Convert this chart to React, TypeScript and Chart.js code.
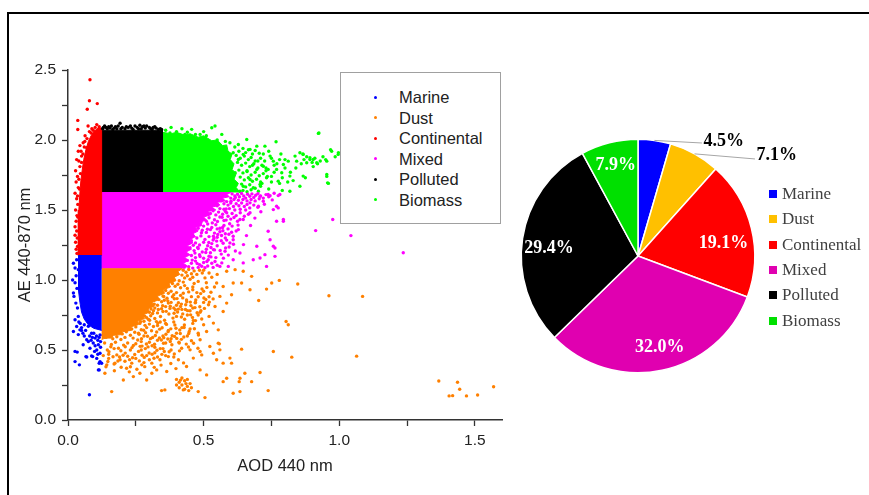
import React, { useEffect, useRef } from "react";
import { Chart, registerables } from "chart.js";

Chart.register(...registerables);

type Pt = [number, number];

// Aerosol classes, in legend order
const classes = ["Marine", "Dust", "Continental", "Mixed", "Polluted", "Biomass"];
const markerColors = ["#0000ff", "#ff8000", "#ff0000", "#ff00ff", "#000000", "#00ff00"];
const sliceColors = ["#0000ff", "#ffc000", "#ff0000", "#e000b0", "#000000", "#00e000"];
// Share of observations per class (%)
const sharePercent = [4.5, 7.1, 19.1, 32.0, 29.4, 7.9];

// Labelled ticks (minor ticks every 0.25 are unlabelled)
const aodLabelled = [0, 0.5, 1.0, 1.5];
const aeLabelled = [0, 0.5, 1.0, 1.5, 2.0, 2.5];

// Outlines of the saturated cores of each cloud (AOD, AE)
const marineCore: Pt[] = [[0.124,1.175],[0.040,1.175],[0.038,1.05],[0.040,0.92],[0.044,0.84],[0.050,0.77],[0.060,0.72],[0.075,0.68],[0.095,0.655],[0.124,0.64]];
const dustCore: Pt[] = [
  [0.124,1.08],[0.42,1.08],[0.405,1.06],[0.412,1.04],[0.392,1.02],[0.398,0.995],[0.372,0.975],[0.378,0.95],[0.35,0.93],
  [0.356,0.905],[0.33,0.885],[0.336,0.86],[0.31,0.84],[0.318,0.815],[0.295,0.795],[0.30,0.77],[0.275,0.75],[0.282,0.725],
  [0.255,0.705],[0.258,0.68],[0.23,0.665],[0.232,0.64],[0.20,0.63],[0.198,0.61],[0.168,0.605],[0.16,0.585],[0.138,0.585],
  [0.124,0.575],
];
const continentalCore: Pt[] = [[0.124,1.175],[0.124,2.085],[0.110,2.085],[0.095,2.06],[0.085,2.03],[0.075,1.99],[0.066,1.93],[0.058,1.86],[0.052,1.78],[0.047,1.70],[0.043,1.60],[0.040,1.50],[0.038,1.40],[0.038,1.175]];
const mixedCore: Pt[] = [
  [0.124,1.08],[0.124,1.625],[0.60,1.625],[0.585,1.61],[0.595,1.595],[0.57,1.585],[0.58,1.565],[0.55,1.555],[0.56,1.535],
  [0.53,1.52],[0.545,1.50],[0.515,1.49],[0.525,1.465],[0.50,1.45],[0.51,1.43],[0.485,1.41],[0.495,1.39],[0.47,1.375],
  [0.48,1.35],[0.46,1.33],[0.47,1.31],[0.45,1.29],[0.46,1.265],[0.44,1.245],[0.455,1.22],[0.435,1.20],[0.45,1.18],
  [0.43,1.16],[0.445,1.14],[0.425,1.12],[0.44,1.10],[0.43,1.08],
];
const pollutedCore: Pt[] = [[0.124,1.625],[0.124,2.07],[0.348,2.07],[0.348,1.625]];
const biomassCore: Pt[] = [
  [0.348,1.625],[0.348,2.055],[0.38,2.045],[0.40,2.055],[0.43,2.035],[0.45,2.045],[0.48,2.02],[0.50,2.03],[0.53,1.995],
  [0.55,2.0],[0.57,1.96],[0.585,1.965],[0.59,1.92],[0.605,1.90],[0.598,1.86],[0.612,1.83],[0.605,1.79],[0.62,1.76],
  [0.612,1.72],[0.628,1.69],[0.62,1.66],[0.635,1.625],
];

// Individual observations outside the saturated cores (AOD, AE)
const marinePts: Pt[] = [
  [0.032,1.145],[0.026,1.086],[0.038,1.074],[0.020,1.120],[0.017,1.000],[0.026,0.980],[0.020,0.907],[0.022,0.883],
  [0.029,0.835],[0.033,0.940],[0.030,1.030],[0.035,0.800],[0.038,0.740],[0.026,0.716],[0.032,0.668],[0.020,0.632],
  [0.040,0.700],[0.045,0.690],[0.044,0.644],[0.038,0.610],[0.075,0.670],[0.069,0.573],[0.093,0.550],[0.112,0.537],
  [0.106,0.500],[0.118,0.477],[0.034,0.485],[0.066,0.453],[0.087,0.458],[0.106,0.440],[0.118,0.417],[0.026,0.417],
  [0.042,0.394],[0.112,0.358],[0.079,0.180],[0.124,0.405],[0.100,0.585],[0.118,0.608],[0.087,0.620],[0.056,0.537],
  [0.081,0.513],[0.026,0.490],[0.069,0.450],[0.091,0.453],[0.115,0.405],[0.115,0.358],[0.055,0.620],[0.060,0.600],
  [0.065,0.640],[0.080,0.600],[0.090,0.590],[0.095,0.620],[0.105,0.600],[0.110,0.570],[0.120,0.560],[0.115,0.590],
  [0.085,0.570],[0.075,0.560],[0.100,0.530],[0.120,0.520],[0.098,0.490],[0.110,0.470],[0.050,0.660],[0.060,0.680],
  [0.050,0.640],
];
const dustPts: Pt[] = [
  [0.425,1.07],[0.435,1.055],[0.445,1.075],[0.455,1.045],[0.465,1.065],[0.475,1.04],[0.42,1.035],[0.43,1.015],[0.44,1.03],
  [0.45,1.005],[0.46,1.02],[0.485,1.07],[0.495,1.05],[0.41,0.995],[0.425,0.985],
  [0.385,0.975],[0.395,0.955],[0.405,0.97],[0.415,0.945],[0.43,0.96],[0.44,0.94],[0.36,0.925],[0.37,0.905],[0.38,0.92],
  [0.39,0.895],[0.40,0.91],[0.415,0.89],[0.35,0.885],[0.365,0.87],[0.385,0.88],[0.425,0.905],[0.445,0.915],[0.46,0.95],
  [0.335,0.86],[0.345,0.845],[0.355,0.855],[0.37,0.835],[0.31,0.815],[0.32,0.80],[0.33,0.82],[0.345,0.795],[0.36,0.81],
  [0.38,0.84],[0.29,0.785],[0.30,0.77],[0.315,0.78],[0.33,0.765],[0.35,0.775],[0.39,0.80],[0.40,0.82],
  [0.25,0.755],[0.26,0.74],[0.275,0.75],[0.29,0.73],[0.305,0.745],[0.32,0.725],[0.22,0.715],[0.235,0.70],[0.25,0.71],
  [0.265,0.69],[0.28,0.705],[0.30,0.685],[0.19,0.675],[0.205,0.66],[0.22,0.67],[0.235,0.65],[0.25,0.665],[0.27,0.645],
  [0.29,0.66],[0.155,0.635],[0.17,0.62],[0.185,0.635],[0.20,0.615],[0.215,0.63],[0.23,0.605],[0.26,0.62],[0.34,0.70],
  [0.33,0.675],
  [0.13,0.605],[0.14,0.59],[0.155,0.60],[0.165,0.58],[0.18,0.595],[0.195,0.575],[0.21,0.59],[0.24,0.585],[0.28,0.60],
  [0.135,0.55],[0.16,0.54],[0.175,0.555],[0.205,0.535],[0.22,0.55],[0.25,0.545],[0.27,0.56],[0.30,0.555],[0.145,0.50],
  [0.17,0.51],[0.195,0.495],[0.23,0.50],[0.26,0.49],[0.285,0.51],[0.32,0.52],[0.35,0.51],[0.15,0.47],[0.18,0.465],
  [0.22,0.455],[0.31,0.47],[0.33,0.45],
  [0.283,0.742],[0.297,0.718],[0.312,0.761],[0.326,0.703],[0.341,0.739],[0.356,0.712],[0.372,0.757],[0.387,0.728],
  [0.404,0.771],[0.418,0.736],[0.433,0.789],[0.452,0.751],[0.468,0.803],[0.487,0.769],
  [0.262,0.612],[0.279,0.641],[0.293,0.598],[0.308,0.637],[0.322,0.604],[0.338,0.649],[0.353,0.587],[0.369,0.631],
  [0.384,0.602],[0.398,0.655],[0.414,0.618],[0.429,0.679],[0.447,0.633],[0.462,0.711],
  [0.353,0.882],[0.368,0.851],[0.392,0.866],[0.407,0.838],[0.423,0.872],[0.438,0.845],[0.455,0.881],[0.471,0.857],
  [0.489,0.903],[0.508,0.861],[0.377,0.812],[0.396,0.787],[0.415,0.811],[0.434,0.823],[0.451,0.842],
  [0.241,0.532],[0.257,0.571],[0.273,0.528],[0.289,0.543],[0.304,0.581],[0.319,0.541],[0.337,0.586],[0.352,0.548],
  [0.368,0.579],[0.383,0.537],[0.401,0.583],[0.418,0.576],[0.436,0.542],[0.455,0.566],
  [0.147,0.418],[0.166,0.452],[0.184,0.421],[0.203,0.463],[0.227,0.431],[0.246,0.468],[0.263,0.422],[0.281,0.447],
  [0.299,0.479],[0.317,0.441],[0.346,0.469],[0.373,0.488],[0.392,0.472],[0.411,0.494],
  [0.171,0.352],[0.196,0.377],[0.226,0.344],[0.254,0.362],[0.283,0.381],[0.318,0.376],[0.343,0.392],[0.379,0.404],
  [0.398,0.367],[0.426,0.408],
  [0.291,0.812],[0.306,0.793],[0.318,0.828],[0.333,0.789],[0.349,0.816],[0.362,0.776],[0.376,0.797],[0.391,0.763],
  [0.407,0.792],[0.423,0.758],[0.441,0.781],[0.459,0.733],[0.476,0.766],[0.493,0.721],
  [0.268,0.703],[0.284,0.676],[0.301,0.712],[0.315,0.668],[0.331,0.692],[0.347,0.659],[0.363,0.683],[0.379,0.651],
  [0.394,0.679],[0.412,0.643],[0.428,0.661],[0.445,0.618],[0.466,0.652],[0.481,0.607],
  [0.246,0.627],[0.271,0.581],[0.286,0.624],[0.312,0.589],[0.327,0.629],[0.344,0.571],[0.361,0.613],[0.377,0.561],
  [0.393,0.597],[0.409,0.556],[0.427,0.593],[0.444,0.521],[0.463,0.548],[0.479,0.512],
  [0.402,0.867],[0.418,0.828],[0.437,0.858],[0.453,0.817],[0.469,0.838],[0.486,0.809],[0.501,0.871],[0.521,0.842],
  [0.158,0.523],[0.186,0.512],[0.211,0.523],[0.236,0.517],[0.266,0.526],[0.295,0.522],[0.151,0.487],[0.211,0.478],
  [0.238,0.445],[0.273,0.463],[0.328,0.498],[0.355,0.489],
  [0.48,0.99],[0.505,1.015],[0.465,0.975],[0.475,0.91],[0.494,0.936],[0.512,0.947],[0.527,0.912],[0.535,0.865],
  [0.518,0.823],[0.503,0.797],
  [0.36,0.69],[0.35,0.60],[0.37,0.64],[0.39,0.70],[0.40,0.74],[0.17,0.40],[0.23,0.38],[0.28,0.41],[0.30,0.43],[0.32,0.48],
  [0.34,0.51],[0.36,0.55],[0.38,0.58],[0.40,0.62],[0.42,0.66],[0.43,0.72],[0.45,0.78],[0.47,0.84],[0.14,0.38],[0.38,0.50],
  [0.41,0.55],[0.44,0.60],[0.46,0.69],[0.48,0.75],[0.36,0.46],[0.39,0.45],[0.13,0.46],[0.15,0.44],[0.19,0.45],[0.21,0.42],
  [0.25,0.44],[0.27,0.50],[0.29,0.46],[0.31,0.53],[0.33,0.57],
  [0.136,0.334],[0.143,0.394],[0.173,0.406],[0.192,0.43],[0.235,0.406],[0.272,0.394],[0.309,0.406],[0.339,0.43],
  [0.37,0.453],[0.407,0.43],[0.437,0.382],[0.462,0.442],[0.45,0.501],[0.419,0.513],[0.487,0.489],[0.364,0.346],[0.345,0.21],
  [0.357,0.215],[0.161,0.203],[0.204,0.286],[0.241,0.31],[0.29,0.286],[0.265,0.334],[0.309,0.334],[0.327,0.358],[0.216,0.37],
  [0.40,0.29],[0.41,0.27],[0.42,0.25],[0.43,0.28],[0.44,0.24],[0.45,0.26],[0.41,0.23],[0.43,0.22],[0.42,0.30],[0.44,0.29],
  [0.40,0.25],[0.455,0.23],[0.435,0.26],[0.415,0.285],[0.445,0.21],[0.425,0.215],
  [0.847,0.971],[0.779,0.997],[0.751,0.979],[0.732,0.935],[0.703,0.854],[0.671,0.93],[0.646,1.062],[0.616,1.074],[0.585,1.062],
  [0.677,1.026],[0.64,0.979],[0.609,0.979],[0.603,0.895],[0.572,0.954],[0.548,0.979],[0.56,0.883],[0.585,0.835],[0.542,0.811],
  [0.572,0.775],[0.536,0.692],[0.511,0.632],[0.554,0.644],[0.558,0.544],[0.64,0.506],[0.597,0.442],[0.603,0.406],[0.548,0.43],
  [0.572,0.274],[0.585,0.298],[0.634,0.298],[0.652,0.334],[0.609,0.191],[0.634,0.203],[0.677,0.274],[0.708,0.339],[0.738,0.21],
  [0.757,0.489],[0.825,0.449],[0.804,0.704],[0.812,0.68],[0.505,0.16],[0.48,0.203],[0.487,0.358],[0.511,0.322],[0.493,0.465],
  [0.536,0.477],[0.554,0.549],[0.523,0.525],[0.487,0.573],[0.56,0.501],[0.572,0.406],[0.631,0.274],
  [0.962,0.888],[1.086,0.883],[1.064,0.456],[1.367,0.279],[1.405,0.172],[1.418,0.174],[1.436,0.27],[1.444,0.22],[1.469,0.172],
  [1.51,0.179],[1.569,0.238],
  [0.50,1.07],[0.52,1.05],[0.53,1.02],[0.51,0.98],[0.55,1.04],[0.50,0.92],[0.52,0.88],[0.54,0.95],[0.46,0.93],[0.48,0.88],
  [0.50,0.84],[0.46,0.80],[0.49,0.78],[0.52,0.74],[0.44,0.75],[0.47,0.71],[0.50,0.68],[0.42,0.79],[0.45,0.65],[0.48,0.62],
];
const continentalPts: Pt[] = [
  [0.081,2.43],[0.079,2.28],[0.108,2.26],[0.071,2.22],[0.036,2.14],[0.036,2.075],[0.074,2.10],[0.106,2.11],[0.079,2.06],
  [0.063,2.03],[0.093,2.07],[0.044,1.96],[0.056,1.98],[0.038,1.92],[0.050,1.885],[0.032,1.86],[0.069,1.945],[0.044,1.81],
  [0.028,1.78],[0.035,1.74],[0.030,1.70],[0.038,1.66],[0.026,1.62],[0.032,1.58],[0.036,1.54],[0.028,1.50],[0.033,1.46],
  [0.030,1.42],[0.026,1.38],[0.032,1.35],[0.026,1.32],[0.028,1.27],[0.030,1.22],[0.033,1.19],[0.100,2.09],[0.115,2.095],
  [0.085,2.05],[0.060,1.95],[0.050,1.84],[0.046,1.76],[0.040,1.72],[0.042,1.65],[0.055,1.90],[0.062,1.99],[0.070,2.01],
  [0.088,2.08],[0.040,1.85],[0.048,1.92],[0.035,1.60],[0.036,1.45],[0.034,1.30],[0.035,1.24],
];
const mixedPts: Pt[] = [
  [0.605,1.615],[0.615,1.60],[0.625,1.612],[0.632,1.595],[0.64,1.618],[0.648,1.60],[0.655,1.585],[0.662,1.612],[0.67,1.598],
  [0.678,1.615],[0.685,1.59],[0.692,1.605],[0.70,1.617],[0.71,1.60],[0.72,1.585],[0.73,1.61],[0.74,1.595],[0.60,1.585],
  [0.612,1.575],[0.628,1.57],[0.645,1.575],[0.66,1.565],[0.675,1.575],[0.69,1.565],[0.705,1.58],
  [0.565,1.565],[0.575,1.545],[0.585,1.56],[0.59,1.535],[0.60,1.55],[0.61,1.525],[0.62,1.545],[0.63,1.53],[0.64,1.55],
  [0.65,1.525],[0.66,1.54],[0.67,1.515],[0.685,1.535],[0.55,1.53],[0.56,1.51],[0.575,1.505],[0.595,1.51],[0.615,1.50],
  [0.635,1.505],[0.655,1.50],[0.70,1.52],[0.54,1.545],
  [0.51,1.49],[0.525,1.475],[0.535,1.495],[0.545,1.465],[0.555,1.485],[0.57,1.47],[0.58,1.49],[0.59,1.455],[0.605,1.475],
  [0.62,1.46],[0.635,1.48],[0.65,1.455],[0.665,1.47],[0.52,1.445],[0.54,1.43],[0.56,1.45],[0.575,1.425],[0.60,1.435],
  [0.625,1.42],[0.51,1.42],
  [0.49,1.41],[0.50,1.385],[0.515,1.40],[0.53,1.375],[0.545,1.395],[0.56,1.37],[0.575,1.39],[0.59,1.365],[0.605,1.385],
  [0.495,1.355],[0.51,1.34],[0.525,1.36],[0.54,1.335],[0.56,1.345],[0.58,1.33],[0.62,1.35],[0.48,1.37],
  [0.46,1.32],[0.475,1.30],[0.49,1.315],[0.505,1.29],[0.52,1.31],[0.535,1.285],[0.55,1.305],[0.565,1.28],[0.58,1.30],
  [0.47,1.265],[0.485,1.25],[0.50,1.27],[0.515,1.245],[0.53,1.26],[0.55,1.245],[0.455,1.28],
  [0.45,1.23],[0.465,1.21],[0.48,1.225],[0.495,1.20],[0.51,1.22],[0.525,1.195],[0.54,1.215],[0.455,1.175],[0.47,1.16],
  [0.485,1.18],[0.50,1.155],[0.52,1.17],[0.545,1.16],[0.565,1.185],
  [0.44,1.14],[0.455,1.12],[0.47,1.135],[0.485,1.11],[0.50,1.125],[0.515,1.10],[0.53,1.12],[0.445,1.095],[0.46,1.085],
  [0.48,1.09],[0.505,1.088],[0.535,1.09],[0.55,1.105],
  [0.462,1.248],[0.478,1.232],[0.468,1.192],[0.487,1.168],[0.458,1.142],[0.476,1.118],[0.493,1.098],[0.512,1.132],
  [0.527,1.165],[0.508,1.196],[0.519,1.268],[0.538,1.296],[0.492,1.337],[0.514,1.362],[0.532,1.408],[0.551,1.418],
  [0.568,1.448],[0.583,1.508],[0.601,1.563],[0.617,1.589],[0.55,1.365],[0.57,1.375],[0.552,1.325],[0.585,1.285],
  [0.61,1.255],[0.581,1.229],
  [0.583,1.428],[0.612,1.446],[0.596,1.402],[0.627,1.392],[0.571,1.352],[0.603,1.341],[0.566,1.318],[0.593,1.327],
  [0.548,1.278],[0.572,1.262],[0.594,1.236],[0.527,1.232],[0.561,1.211],[0.517,1.145],[0.542,1.132],[0.573,1.156],
  [0.591,1.178],[0.617,1.207],[0.647,1.253],[0.658,1.317],[0.673,1.389],[0.689,1.442],[0.711,1.487],[0.724,1.541],
  [0.753,1.572],[0.745,1.602],[0.76,1.62],
  [0.976,1.432],[0.913,1.353],[0.775,1.515],[0.794,1.432],[0.738,1.348],[0.745,1.288],[0.696,1.241],[0.726,1.181],
  [0.763,1.169],[0.708,1.157],[0.683,1.145],[0.634,1.193],[0.646,1.122],[0.732,1.097],[0.763,1.229],[0.738,1.611],
  [0.775,1.603],[0.720,1.563],[0.702,1.527],[0.671,1.480],[0.646,1.432],[0.628,1.360],[0.609,1.312],[0.597,1.265],
  [0.579,1.205],[0.567,1.122],[0.591,1.097],[0.769,1.527],[0.757,1.503],[1.043,1.317],[1.236,1.195],[0.781,1.611],
  [0.794,1.42],[0.769,1.42],[0.757,1.241],[0.609,1.145],[0.56,1.097],[0.536,1.217],[0.609,1.288],[0.536,1.312],
  [0.585,1.48],[0.634,1.432],[0.671,1.551],[0.708,1.599],
];
const pollutedPts: Pt[] = [
  [0.130,2.09],[0.140,2.09],[0.155,2.085],[0.165,2.075],[0.175,2.095],[0.192,2.12],[0.200,2.09],[0.210,2.08],[0.222,2.09],
  [0.235,2.085],[0.247,2.10],[0.255,2.09],[0.265,2.105],[0.275,2.095],[0.290,2.10],[0.300,2.09],[0.314,2.09],[0.325,2.085],
  [0.333,2.075],[0.340,2.08],[0.180,2.08],[0.145,2.08],[0.285,2.085],[0.230,2.10],[0.160,2.10],[0.128,2.08],[0.185,2.10],
  [0.215,2.095],[0.240,2.075],[0.260,2.08],[0.270,2.08],[0.305,2.08],[0.320,2.095],[0.345,2.075],[0.135,2.10],[0.170,2.085],
  [0.195,2.08],[0.280,2.10],[0.310,2.075],[0.150,2.095],
];
const biomassPts: Pt[] = [
  [0.376,2.05],[0.431,2.04],[0.456,2.076],[0.487,2.04],[0.53,2.088],[0.542,2.10],[0.567,2.04],[0.597,1.98],[0.628,1.968],
  [0.659,2.004],[0.671,1.933],[0.696,1.956],[0.726,1.956],[0.767,1.987],[0.923,2.047],[0.867,1.897],[0.843,1.849],[0.88,1.837],
  [0.904,1.861],[0.954,1.849],[0.972,1.92],[0.996,1.897],[0.954,1.754],[0.957,1.694],[0.867,1.742],[0.818,1.634],[0.812,1.849],
  [0.788,1.766],[0.775,1.706],[0.732,1.73],[0.72,1.813],[0.696,1.79],[0.671,1.718],[0.683,1.659],[0.646,1.67],[0.628,1.861],
  [0.646,1.897],[0.609,1.909],[0.616,1.766],[0.597,1.694],[0.585,1.813],[0.745,1.885],[0.757,1.849],[0.738,1.79],[0.769,1.79],
  [0.794,1.825],[0.818,1.742],[0.837,1.885],[0.855,1.909],[0.892,1.873],[0.917,1.837],[0.708,1.682],[0.634,1.634],[0.702,1.634],
  [0.925,2.05],[0.968,1.93],[0.997,1.91],[0.866,1.90],[0.892,1.86],[0.904,1.81],[0.855,1.67],[0.954,1.74],[0.96,1.69],
  [0.875,1.73],[0.87,1.86],[0.88,1.88],[0.90,1.84],[0.91,1.87],[0.93,1.85],[0.94,1.88],[0.92,1.83],[0.86,1.83],[0.95,1.86],
  [0.985,1.88],
  [0.615,1.95],[0.63,1.92],[0.645,1.94],[0.655,1.91],[0.665,1.93],[0.68,1.90],[0.69,1.925],[0.705,1.905],[0.62,1.89],
  [0.635,1.87],[0.65,1.885],[0.665,1.86],[0.675,1.875],[0.69,1.85],[0.71,1.87],[0.725,1.85],[0.625,1.84],[0.64,1.82],
  [0.655,1.835],[0.67,1.81],[0.685,1.83],[0.70,1.80],[0.715,1.82],[0.73,1.80],[0.63,1.785],[0.645,1.765],[0.66,1.775],
  [0.675,1.75],[0.69,1.77],[0.705,1.745],[0.72,1.76],[0.735,1.74],[0.635,1.735],[0.65,1.715],[0.665,1.73],[0.68,1.705],
  [0.695,1.72],[0.715,1.69],[0.64,1.685],[0.655,1.665],[0.67,1.68],[0.69,1.655],[0.71,1.67],[0.645,1.64],[0.66,1.63],
  [0.675,1.645],[0.74,1.65],[0.75,1.70],[0.76,1.77],[0.77,1.83],[0.75,1.87],[0.785,1.90],[0.80,1.86],[0.78,1.69],
  [0.79,1.64],[0.81,1.70],
  [0.66,1.78],[0.68,1.82],[0.70,1.85],[0.72,1.90],[0.71,1.70],[0.73,1.78],[0.75,1.74],[0.76,1.82],[0.74,1.92],[0.78,1.86],
  [0.80,1.80],[0.79,1.73],[0.82,1.77],[0.84,1.80],[0.83,1.71],
  [0.36,2.07],[0.40,2.06],[0.44,2.055],[0.47,2.04],[0.51,2.03],[0.55,2.00],[0.58,1.99],[0.42,2.08],[0.38,2.09],[0.50,2.06],
];

const cores: Pt[][] = [marineCore, dustCore, continentalCore, mixedCore, pollutedCore, biomassCore];
const clouds: Pt[][] = [marinePts, dustPts, continentalPts, mixedPts, pollutedPts, biomassPts];
const toXY = (pts: Pt[]) => pts.map(([x, y]) => ({ x, y }));

const sansFamily = '"Liberation Sans", Arial, Helvetica, sans-serif';
const serifFamily = '"Liberation Serif", "Times New Roman", serif';

const labelFor = (labelled: number[]) => (v: number | string) => {
  const n = Number(v);
  return labelled.some((l) => Math.abs(l - n) < 1e-6) ? n.toFixed(1) : "";
};

// Percentage labels inside the slices, with leader lines for the thin ones
const sliceLabelPlugin = {
  id: "sliceLabels",
  afterDatasetsDraw(chart: any, _args: any, opts: any) {
    const ctx = chart.ctx as CanvasRenderingContext2D;
    const meta = chart.getDatasetMeta(0);
    const vals = chart.data.datasets[0].data as number[];
    ctx.save();
    ctx.font = opts.font;
    ctx.textBaseline = "middle";
    meta.data.forEach((arc: any, i: number) => {
      const { x, y, startAngle, endAngle, outerRadius } = arc.getProps(
        ["x", "y", "startAngle", "endAngle", "outerRadius"],
        true
      );
      const mid = (startAngle + endAngle) / 2;
      const text = `${vals[i].toFixed(1)}%`;
      const callout = opts.callouts[i];
      if (callout) {
        const ax = x + Math.cos(mid) * outerRadius;
        const ay = y + Math.sin(mid) * outerRadius;
        const ex = ax + callout[0];
        const ey = ay + callout[1];
        ctx.strokeStyle = "#a6a6a6";
        ctx.lineWidth = 1;
        ctx.beginPath();
        ctx.moveTo(ax, ay);
        ctx.lineTo(ex, ey);
        ctx.stroke();
        ctx.fillStyle = "#000";
        ctx.textAlign = "left";
        ctx.fillText(text, ex + 1.5, ey + callout[2]);
      } else {
        const r = outerRadius * opts.labelRadius;
        const nudge = opts.nudges[i] || [0, 0];
        ctx.fillStyle = "#fff";
        ctx.textAlign = "center";
        ctx.fillText(text, x + Math.cos(mid) * r + nudge[0], y + Math.sin(mid) * r + nudge[1]);
      }
    });
    ctx.restore();
  },
};

export default function App() {
  const scatterRef = useRef<HTMLCanvasElement | null>(null);
  const pieRef = useRef<HTMLCanvasElement | null>(null);

  useEffect(() => {
    if (!scatterRef.current || !pieRef.current) return;

    const axisTitle = { family: sansFamily, size: 16.5 };
    const tickFont = { family: sansFamily, size: 15.5 };

    const scatter = new Chart(scatterRef.current, {
      type: "scatter",
      data: {
        datasets: [
          ...classes.map((c, i) => ({
            type: "line" as const,
            label: `${c} core`,
            data: toXY(cores[i]),
            fill: "shape" as any,
            backgroundColor: markerColors[i],
            borderColor: markerColors[i],
            borderWidth: 1,
            pointRadius: 0,
            tension: 0,
            order: 2,
          })),
          ...classes.map((c, i) => ({
            type: "scatter" as const,
            label: c,
            data: toXY(clouds[i]),
            backgroundColor: markerColors[i],
            pointRadius: 1.7,
            pointBorderWidth: 0,
            order: 1,
          })),
        ] as any,
      },
      options: {
        responsive: false,
        animation: false,
        devicePixelRatio: 1,
        layout: { padding: { left: 10, top: 70, right: 18, bottom: 10 } },
        plugins: { legend: { display: false }, tooltip: { enabled: false } },
        scales: {
          x: {
            type: "linear",
            min: 0,
            max: 1.6,
            afterFit: (s: any) => { s.height = 65; },
            ticks: {
              stepSize: 0.25,
              includeBounds: false,
              autoSkip: false,
              maxRotation: 0,
              padding: 5,
              color: "#222",
              font: tickFont,
              callback: labelFor(aodLabelled),
            },
            grid: { display: true, drawOnChartArea: false, drawTicks: true, tickLength: 6, tickColor: "#333", tickWidth: 1.3 },
            border: { display: true, color: "#333", width: 1.5 },
            title: { display: true, text: "AOD 440 nm", color: "#222", font: axisTitle, padding: { top: 0, bottom: 8.4 } },
          },
          y: {
            type: "linear",
            min: 0,
            max: 2.5,
            afterFit: (s: any) => { s.width = 58; },
            ticks: {
              stepSize: 0.25,
              includeBounds: false,
              autoSkip: false,
              padding: 6,
              color: "#222",
              font: tickFont,
              callback: labelFor(aeLabelled),
            },
            grid: { display: true, drawOnChartArea: false, drawTicks: true, tickLength: 6, tickColor: "#333", tickWidth: 1.3 },
            border: { display: true, color: "#333", width: 1.5 },
            title: { display: true, text: "AE 440-870 nm", color: "#222", font: axisTitle, padding: { top: 5.4, bottom: 0 } },
          },
        },
      } as any,
    });

    const pie = new Chart(pieRef.current, {
      type: "pie",
      data: {
        labels: classes,
        datasets: [
          {
            data: sharePercent,
            backgroundColor: sliceColors,
            borderColor: "#ffffff",
            borderWidth: 1.5,
            hoverOffset: 0,
            offset: 0,
          },
        ],
      },
      options: {
        responsive: false,
        animation: false,
        devicePixelRatio: 1,
        layout: { padding: { left: 20.5, right: 113.5, top: 138.5, bottom: 121.5 } },
        plugins: {
          legend: { display: false },
          tooltip: { enabled: false },
          sliceLabels: {
            font: `bold 18px ${serifFamily}`,
            labelRadius: 0.78,
            callouts: { 0: [47.5, 2.6, -2], 1: [60.4, 5.1, -4] },
            nudges: { 2: [-3, 9], 3: [3, 2], 4: [1, 6], 5: [0, -2] },
          },
        },
      } as any,
      plugins: [sliceLabelPlugin],
    });

    return () => {
      scatter.destroy();
      pie.destroy();
    };
  }, []);

  const legendRowY = (i: number) => 97 + i * 20.5;
  const pieRowY = (i: number) => 194 + i * 25.3;

  return (
    <div
      style={{
        position: "absolute",
        left: 0,
        top: 0,
        width: 869,
        height: 495,
        background: "#ffffff",
        overflow: "hidden",
      }}
    >
      <canvas ref={scatterRef} width={520} height={495} style={{ position: "absolute", left: 0, top: 0 }} />
      <canvas ref={pieRef} width={369} height={495} style={{ position: "absolute", left: 500, top: 0 }} />

      {/* scatter legend */}
      <div
        style={{
          position: "absolute",
          left: 340,
          top: 72,
          width: 159,
          height: 150,
          border: "1px solid #a0a0a0",
          background: "#ffffff",
        }}
      />
      {classes.map((c, i) => (
        <React.Fragment key={c}>
          <div
            style={{
              position: "absolute",
              left: 373.5,
              top: legendRowY(i) - 1.5,
              width: 3,
              height: 3,
              borderRadius: "50%",
              background: markerColors[i],
            }}
          />
          <div
            style={{
              position: "absolute",
              left: 399,
              top: legendRowY(i) - 10,
              height: 20,
              lineHeight: "20px",
              fontFamily: sansFamily,
              fontSize: 16.5,
              color: "#222",
              whiteSpace: "nowrap",
            }}
          >
            {c}
          </div>
        </React.Fragment>
      ))}

      {/* pie legend */}
      {classes.map((c, i) => (
        <React.Fragment key={`p-${c}`}>
          <div
            style={{
              position: "absolute",
              left: 769,
              top: pieRowY(i) - 4,
              width: 8,
              height: 8,
              background: sliceColors[i],
            }}
          />
          <div
            style={{
              position: "absolute",
              left: 782,
              top: pieRowY(i) - 11,
              height: 22,
              lineHeight: "22px",
              fontFamily: serifFamily,
              fontSize: 17,
              color: "#404040",
              whiteSpace: "nowrap",
            }}
          >
            {c}
          </div>
        </React.Fragment>
      ))}

      {/* outer frame */}
      <div
        style={{
          position: "absolute",
          left: 7,
          top: 12,
          width: 900,
          height: 600,
          borderTop: "2px solid #000",
          borderLeft: "2px solid #000",
          pointerEvents: "none",
        }}
      />
    </div>
  );
}
